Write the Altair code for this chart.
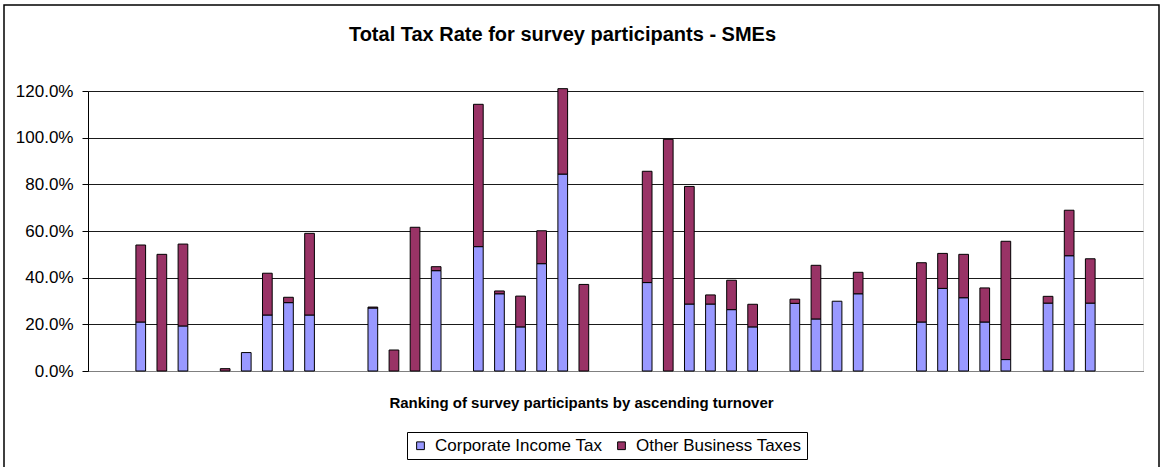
import altair as alt
import pandas as pd

# slot index (position along the ranking axis; empty slots are gaps)
slots = [2, 3, 4, 6, 7, 8, 9, 10, 13, 14, 15, 16, 18, 19, 20, 21, 22, 23,
         26, 27, 28, 29, 30, 31, 33, 34, 35, 36, 39, 40, 41, 42, 43, 45, 46, 47]
# Corporate Income Tax (% of profit)
cit = [21.0, 0, 19.3, 0, 7.9, 24.0, 29.3, 24.0, 27.0, 0, 0, 43.0, 53.3, 33.1, 18.9,
       46.0, 84.4, 0, 37.9, 0, 28.7, 28.7, 26.3, 18.9, 29.0, 22.3, 29.9, 33.1,
       21.0, 35.4, 31.4, 21.0, 4.9, 29.1, 49.4, 29.1]
# Other Business Taxes (% of profit)
other = [33.0, 50.0, 35.1, 1.0, 0, 17.9, 2.3, 35.0, 0.4, 9.0, 61.6, 1.7, 61.0, 1.2,
         13.2, 14.1, 36.6, 37.1, 47.7, 99.3, 50.4, 3.9, 12.6, 9.7, 1.8, 23.0, 0,
         9.2, 25.4, 15.0, 18.6, 14.6, 50.7, 2.9, 19.5, 19.0]
series = ["Corporate Income Tax", "Other Business Taxes"]
colors = ["#9999FF", "#993366"]
n_slots = 50
y_ticks = [0, 0.2, 0.4, 0.6, 0.8, 1.0, 1.2]
title_text = "Total Tax Rate for survey participants - SMEs"

rows = []
for s, a, b in zip(slots, cit, other):
    if a > 0:
        rows.append({"slot": s, "series": series[0], "value": a / 100, "ord": 0})
    if b > 0:
        rows.append({"slot": s, "series": series[1], "value": b / 100, "ord": 1})
df = pd.DataFrame(rows)

FONT = "Liberation Sans"
W, H = 1055, 280

bars = alt.Chart(df).mark_bar(stroke="black", strokeWidth=1).encode(
    x=alt.X("slot:O",
            scale=alt.Scale(domain=list(range(n_slots)), paddingInner=0.54, paddingOuter=0.27),
            axis=alt.Axis(labels=False, ticks=False, domainColor="#808080",
                          title="Ranking of survey participants by ascending turnover",
                          titleFont=FONT, titleFontSize=15, titleFontWeight="bold",
                          titleColor="black", titleX=493, titleY=36,
                          titleBaseline="alphabetic", titleAnchor="middle")),
    y=alt.Y("value:Q", stack="zero",
            scale=alt.Scale(domain=[0, 1.2], nice=False),
            axis=alt.Axis(values=y_ticks, format=".1%", title=None,
                          labelFont=FONT, labelFontSize=17, labelColor="black",
                          tickSize=6, tickColor="black", labelPadding=9,
                          domainColor="black", gridColor="#1a1a1a", gridWidth=1)),
    color=alt.Color("series:N", scale=alt.Scale(domain=series, range=colors),
                    legend=alt.Legend(title=None, orient="none", legendX=319, legendY=341,
                                      direction="horizontal", strokeColor="black",
                                      padding=5, labelFont=FONT, labelFontSize=17,
                                      labelColor="black", symbolType="square",
                                      symbolSize=60, symbolStrokeColor="black",
                                      symbolStrokeWidth=1, columnPadding=10,
                                      labelOffset=6, labelLimit=0)),
    order=alt.Order("ord:Q"),
)

one = pd.DataFrame({"t": [title_text]})

frame = alt.Chart(one).mark_rect(
    fill=None, stroke="black", strokeWidth=1.5
).encode(x=alt.value(-84), x2=alt.value(1071), y=alt.value(-86), y2=alt.value(390))

title = alt.Chart(one).mark_text(
    font=FONT, fontSize=20, fontWeight="bold", color="black",
    align="center", baseline="alphabetic"
).encode(text="t:N", x=alt.value(474.5), y=alt.value(-50))

chart = alt.layer(bars, frame, title).properties(
    width=W, height=H,
    autosize=alt.AutoSizeParams(type="none"),
    padding={"left": 88, "top": 91, "right": 17, "bottom": 96},
).configure_view(stroke="#808080").configure(background="white")

chart.save("out.html", embed_options={"renderer": "svg", "actions": False})
